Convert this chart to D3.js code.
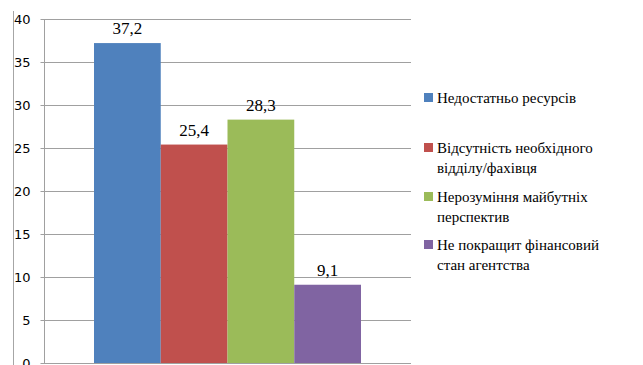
<!DOCTYPE html>
<html><head><meta charset="utf-8">
<script src="https://cdn.jsdelivr.net/npm/d3@7"></script>
<style>body{margin:0;background:#fff}svg{display:block}</style>
</head><body>
<script>
const categories = ["Недостатньо ресурсів", "Відсутність необхідного відділу/фахівця", "Нерозуміння майбутніх перспектив", "Не покращит фінансовий стан агентства"];
const legendLines = [["Недостатньо ресурсів"], ["Відсутність необхідного", "відділу/фахівця"], ["Нерозуміння майбутніх", "перспектив"], ["Не покращит фінансовий", "стан агентства"]];
const values = [37.2, 25.4, 28.3, 9.1];
const labels = ["37,2", "25,4", "28,3", "9,1"];
const colors = ["#4f81bd", "#c0504d", "#9bbb59", "#8064a2"];
const yTicks = [0, 5, 10, 15, 20, 25, 30, 35, 40];

const W = 643, H = 365;
const serif = "Liberation Serif, Noto Serif, DejaVu Serif, serif";
const svg = d3.select("body").append("svg").attr("width", W).attr("height", H);

// outer frame line
svg.append("line").attr("x1", 13.5).attr("x2", 13.5).attr("y1", 11).attr("y2", H).attr("stroke", "#a6a6a6");

const x0 = 44, x1 = 411, yTop = 19, yBot = 363;
const y = d3.scaleLinear().domain([0, 40]).range([yBot, yTop]);
const x = d3.scaleBand().domain(categories).range([94, 361]).padding(0);

// gridlines
svg.append("g").selectAll("line").data(yTicks).join("line")
  .attr("x1", x0).attr("x2", x1)
  .attr("y1", d => Math.round(y(d)) + 0.5).attr("y2", d => Math.round(y(d)) + 0.5)
  .attr("stroke", "#a0a0a0").attr("stroke-width", 1);

// y axis
const ax = svg.append("g").attr("transform", `translate(${x0 + 0.5},0)`)
  .call(d3.axisLeft(y).tickValues(yTicks).tickSize(4).tickPadding(10));
ax.attr("font-family", "DejaVu Sans").attr("font-size", 13);
ax.select(".domain").attr("stroke", "#a0a0a0").attr("d", `M-0,${yTop}V${yBot}`);
ax.selectAll(".tick line").attr("stroke", "#a0a0a0");
ax.selectAll(".tick text").attr("font-family", "DejaVu Sans").attr("font-size", 13).attr("fill", "#000");

// bars
svg.append("g").selectAll("rect").data(values).join("rect")
  .attr("x", (d, i) => x(categories[i]))
  .attr("width", x.bandwidth())
  .attr("y", d => y(d))
  .attr("height", d => yBot - y(d))
  .attr("fill", (d, i) => colors[i]);

// data labels
svg.append("g").selectAll("text").data(values).join("text")
  .attr("font-family", serif)
  .attr("font-size", 17)
  .attr("x", (d, i) => x(categories[i]) + x.bandwidth() / 2)
  .attr("y", d => y(d) - 9)
  .attr("text-anchor", "middle")
  .attr("fill", "#000")
  .text((d, i) => labels[i]);

// legend
const legendY = [98, 148, 197, 245];
const lg = svg.append("g");
legendLines.forEach((lines, i) => {
  lg.append("rect").attr("x", 424).attr("y", legendY[i] - 5).attr("width", 9).attr("height", 9).attr("fill", colors[i]);
  lines.forEach((t, j) => {
    lg.append("text").attr("font-family", serif).attr("font-size", 15)
      .attr("x", 437).attr("y", legendY[i] + j * 20 + 5)
      .attr("fill", "#000").text(t);
  });
});
</script>
</body></html>
